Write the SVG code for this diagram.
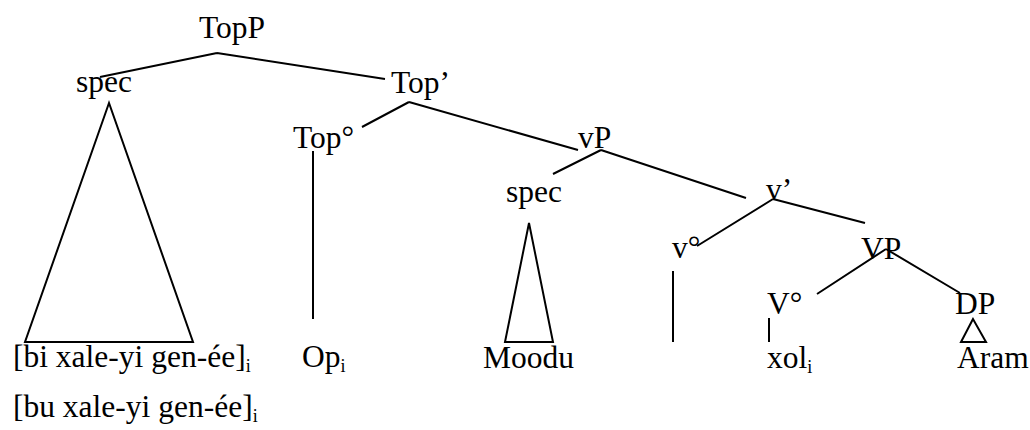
<svg xmlns="http://www.w3.org/2000/svg" width="1030" height="430" viewBox="0 0 1030 430">
<style>
text{font-family:"Liberation Serif","Times New Roman",serif;font-size:31.5px;fill:#000}
.sub{font-size:18px}
.e{stroke:#000;stroke-width:2;fill:none;stroke-linecap:butt}
</style>
<rect width="1030" height="430" fill="#fff"/>
<g id="connectors">
<path class="e" d="M217,53 L100,77 M217,53 L385,79"/>
<path class="e" d="M409,102 L362,127 M409,102 L578,150"/>
<path class="e" d="M313,151 L313,319"/>
<path class="e" d="M109,103 L25,342 L193,342 Z"/>
<path class="e" d="M601,150 L553,174 M601,150 L746,198"/>
<path class="e" d="M529,223 L505,342 L553,342 Z"/>
<path class="e" d="M773,199 L697,246 M773,199 L865,223"/>
<path class="e" d="M673,271 L673,342"/>
<path class="e" d="M886,249 L817,294 M886,249 L960,293"/>
<path class="e" d="M769,318 L769,342"/>
<path class="e" d="M973,319 L961,342 L986,342 Z"/>
</g>
<g id="n-topp"><text x="199" y="38">TopP</text></g>
<g id="n-spec1"><text x="76" y="92">spec</text></g>
<g id="n-topbar"><text x="391" y="93">Top’</text></g>
<g id="n-top0"><text x="293" y="148">Top°</text></g>
<g id="n-vp"><text x="578" y="148">vP</text></g>
<g id="n-spec2"><text x="506" y="202">spec</text></g>
<g id="n-vbar"><text x="766" y="200">v’</text></g>
<g id="n-v0"><text x="672" y="258">v°</text></g>
<g id="n-VP"><text x="861" y="259">VP</text></g>
<g id="n-V0"><text x="767" y="314">V°</text></g>
<g id="n-DP"><text x="955" y="314">DP</text></g>
<g id="n-bi"><text x="13" y="367">[bi xale-yi gen-ée]<tspan class="sub" dy="5">i</tspan></text></g>
<g id="n-op"><text x="302" y="367">Op<tspan class="sub" dy="5">i</tspan></text></g>
<g id="n-moodu"><text x="483" y="368">Moodu</text></g>
<g id="n-xol"><text x="767" y="368">xol<tspan class="sub" dy="5">i</tspan></text></g>
<g id="n-aram"><text x="957" y="368">Aram</text></g>
<g id="n-bu"><text x="13" y="417">[bu xale-yi gen-ée]<tspan class="sub" dy="5">i</tspan></text></g>
</svg>
